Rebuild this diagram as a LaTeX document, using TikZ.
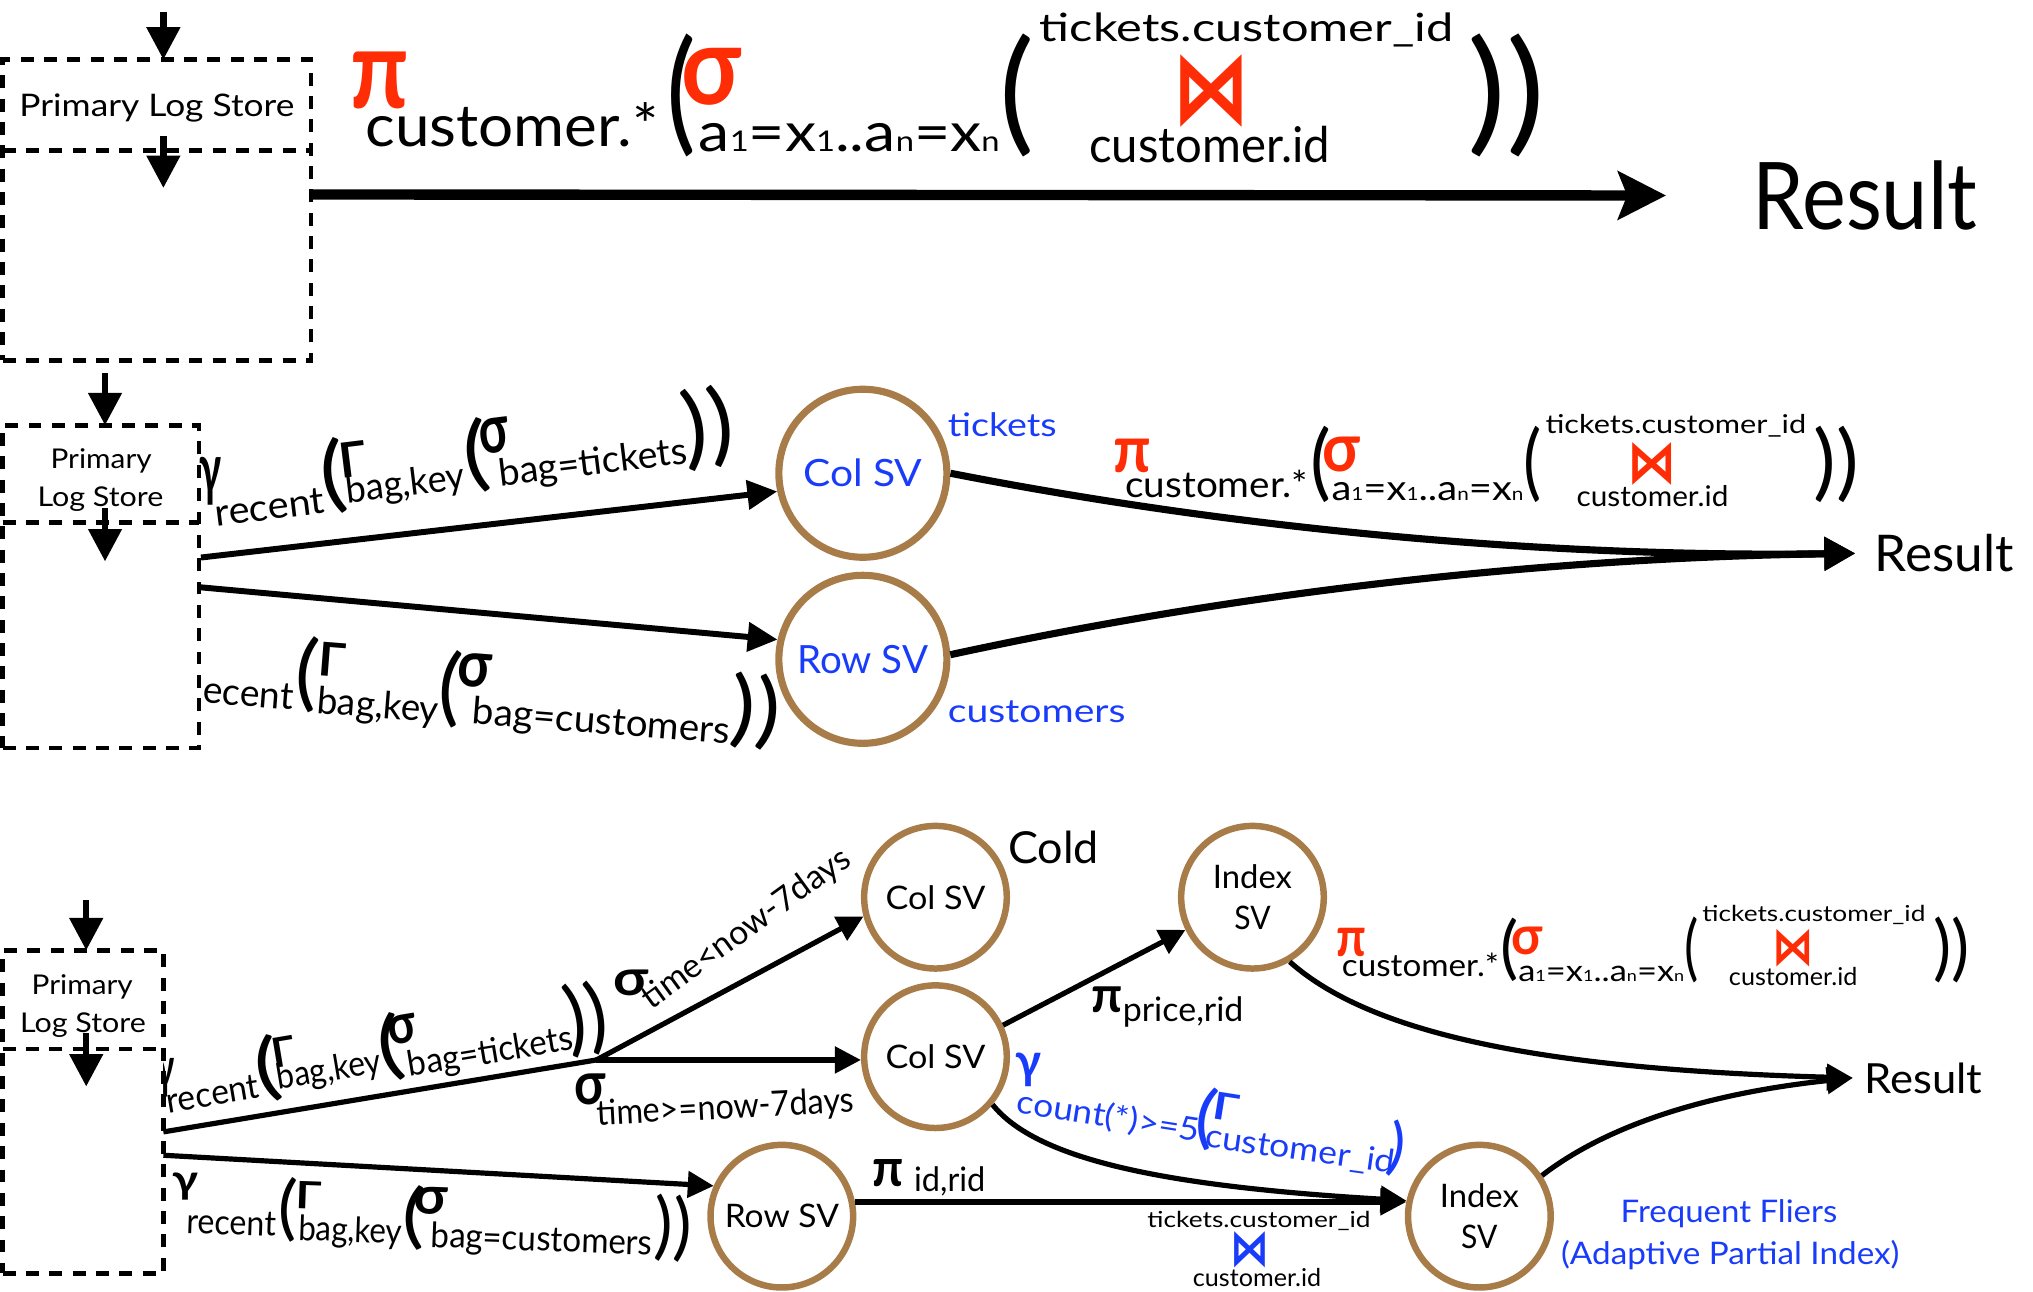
\documentclass[tikz,border=0pt]{standalone}
\usepackage{fontspec}
\setmainfont{Lato}
\newfontfamily\djv{DejaVu Sans}
\usepackage{graphicx}
\usetikzlibrary{arrows.meta,calc}
\definecolor{fred}{RGB}{255,45,5}
\definecolor{fblue}{RGB}{25,60,250}
\definecolor{fbrown}{RGB}{168,124,72}
\newcommand\fsz[1]{\fontsize{#1}{#1}\selectfont}
\newcommand\fitw[2]{\resizebox{#1pt}{\height}{#2}}
\newcommand\fitb[3]{\resizebox*{#1pt}{#2pt}{#3}}
\newcommand\aform[1]{a{\fsz{#1}1}=x{\fsz{#1}1}..a{\fsz{#1}n}=x{\fsz{#1}n}}
\begin{document}
\begin{tikzpicture}[x=1pt,y=-1pt,
 tx/.style={inner sep=0pt,outer sep=0pt,anchor=base west},
 sym/.style={inner sep=0pt,outer sep=0pt,anchor=center},
 lbox/.style={draw,fill=white,line width=3.5pt,dash pattern=on 10pt off 8pt,inner sep=0pt,outer sep=0pt},
 ldiv/.style={line width=3.5pt,dash pattern=on 10pt off 8pt},
 circA/.style={circle,draw=fbrown,line width=5.5pt,inner sep=0pt,minimum size=129.6pt},
 circB/.style={circle,draw=fbrown,line width=5pt,inner sep=0pt,minimum size=110pt},
 dnarr/.style={line width=5pt,-{Triangle[length=25pt,width=25pt]}},
 midarr/.style={line width=4.6pt,-{Triangle[length=23pt,width=22pt]}},
 curvA/.style={line width=5.5pt,-{Triangle[length=24pt,width=25pt]}},
 botarr/.style={line width=4pt,-{Triangle[length=20pt,width=20pt]}},
 botline/.style={line width=4pt},
 sb/.style={text=fblue}, sr/.style={text=fred}]
\useasboundingbox (0,0) rectangle (1568,996);

% ================= TOP =================
\node[tx,font=\fsz{72},inner xsep=67pt] (res1) at (1285,177) {\fitw{173}{Result}};
\node[sym,sr] (tpi) at (292.5,62) {\fitb{45}{44}{\bfseries π}};
\node[tx,font=\fsz{45}] (tcust) at (282,113) {\fitw{226}{customer.*}};
\node[sym] (tp1) at (525.5,73.5) {\fitb{23}{95}{(}};
\node[sym,sr] (tsig) at (549,59) {\fitb{46}{44}{\bfseries σ}};
\node[tx,font=\fsz{42}] (taf) at (539,117) {\fitw{232}{\aform{22}}};
\node[sym] (tp2) at (784.5,73.5) {\fitb{27}{95}{(}};
\node[tx,font=\fsz{30}] (ttc) at (802,32) {\fitw{319}{tickets.customer\_id}};
\node[sym,sr] (tbow) at (934,70) {\fitb{60}{56}{\djv\bfseries ⋈}};
\node[tx,font=\fsz{38}] (tci) at (840,125) {\fitw{186}{customer.id}};
\node[sym] (tp3) at (1162,73.5) {\fitb{60}{95}{))}};

\node[lbox,minimum width=238pt,minimum height=232pt] (lb1) at (121,162) {};
\draw[ldiv] (lb1.west |- 0,116) -- (lb1.east |- 0,116);
\node[tx,font=\fsz{24}] (pls1) at (15,90) {\fitw{212}{Primary Log Store}};
\coordinate (in1) at (126,9);
\draw[dnarr] (in1) -- (in1 |- lb1.north);
\coordinate (in1b) at (126,105);
\coordinate (in1c) at (126,145);
\draw[dnarr] (in1b) -- (in1c);
\draw[line width=8pt,-{Stealth[length=37pt,width=37pt,inset=7pt]}] (lb1.east |- 0,150) -- (res1.west);

% ================= MIDDLE =================
\node[sym] (mg1) at (162.5,371) {\fitb{17}{37}{\bfseries γ}};
\node[tx,font=\fsz{29},rotate=7] (mrec1) at (167,406) {\fitw{85}{recent}};
\node[sym,rotate=7] (mp11) at (257,367.5) {\fitb{20}{59}{(}};
\node[sym,rotate=7] (mG1) at (272.5,354.5) {\fitb{21}{27}{\bfseries Γ}};
\node[tx,font=\fsz{29},rotate=7] (mbk1) at (268,388) {\fitw{92}{bag,key}};
\node[sym,rotate=7] (mp12) at (367,351) {\fitb{20}{58}{(}};
\node[sym,rotate=7] (ms1) at (381.5,336.5) {\fitb{23}{27}{\bfseries σ}};
\node[tx,font=\fsz{29},rotate=7] (mbt1) at (386,375) {\fitw{146}{bag=tickets}};
\node[sym,rotate=7] (mp13) at (546,330) {\fitb{40}{64}{))}};

\node[tx,font=\fsz{29},rotate=-4.5] (mrec2) at (156,542) {\fitw{70}{ecent}};
\node[sym,rotate=-4.5] (mp21) at (237,520.5) {\fitb{18}{59}{(}};
\node[sym,rotate=-4.5] (mG2) at (256.5,509) {\fitb{21}{26}{\bfseries Γ}};
\node[tx,font=\fsz{29},rotate=-4.5] (mbk2) at (244,550) {\fitw{94}{bag,key}};
\node[sym,rotate=-4.5] (mp22) at (347,531) {\fitb{18}{60}{(}};
\node[sym,rotate=-4.5] (ms2) at (366,517) {\fitb{26}{26}{\bfseries σ}};
\node[tx,font=\fsz{29},rotate=-4.5] (mbc2) at (364,558) {\fitw{199}{bag=customers}};
\node[sym,rotate=-4.5] (mp23) at (582.5,548.5) {\fitb{39}{59}{))}};

\node[lbox,minimum width=151.5pt,minimum height=249pt] (lb2) at (77.75,452.5) {};
\draw[ldiv] (lb2.west |- 0,403) -- (lb2.east |- 0,403);
\node[tx,font=\fsz{21}] (pm1) at (39,361) {\fitw{78}{Primary}};
\node[tx,font=\fsz{21}] (pm2) at (29,391) {\fitw{97}{Log Store}};
\coordinate (in2) at (81,288);
\draw[dnarr] (in2) -- (in2 |- lb2.north);
\coordinate (in2b) at (81,392);
\coordinate (in2c) at (81,433);
\draw[dnarr] (in2b) -- (in2c);

\node[circA,text=fblue,font=\fsz{29}] (cols) at (665.5,365) {\fitw{92}{Col SV}};
\node[circA,text=fblue,font=\fsz{30}] (rows) at (665.5,508.5) {\fitw{101}{Row SV}};
\node[tx,sb,font=\fsz{25}] (ltk) at (731,337) {\fitw{84}{tickets}};
\node[tx,sb,font=\fsz{25}] (lcu) at (731,557) {\fitw{137}{customers}};
\node[tx,font=\fsz{39},inner xsep=15pt] (res2) at (1431,441) {\fitw{107}{Result}};

\coordinate (b2o1) at (155,430);
\coordinate (b2o2) at (155,453);
\draw[midarr] (b2o1) -- (cols.192);
\draw[midarr] (b2o2) -- (rows.167);
\draw[curvA] (cols.east) .. controls (963,410) and (1200,430) .. (res2.west);
\draw[curvA] (rows.3) .. controls (963,455) and (1200,430) .. (res2.west);

\node[sym,sr] (mpi) at (873.5,352) {\fitb{29}{26}{\bfseries π}};
\node[tx,font=\fsz{28}] (mcust) at (868,384) {\fitw{141}{customer.*}};
\node[sym] (mq1) at (1019,358.5) {\fitb{16}{59}{(}};
\node[sym,sr] (msig) at (1034.5,350.5) {\fitb{29}{27}{\bfseries σ}};
\node[tx,font=\fsz{27}] (maf) at (1027,386) {\fitw{148}{\aform{14}}};
\node[sym] (mq2) at (1182,358.5) {\fitb{14}{59}{(}};
\node[tx,font=\fsz{20}] (mtc) at (1192,334) {\fitw{201}{tickets.customer\_id}};
\node[sym,sr] (mbow) at (1274,357.5) {\fitb{38}{33}{\djv\bfseries ⋈}};
\node[tx,font=\fsz{22}] (mci) at (1216,391) {\fitw{117}{customer.id}};
\node[sym] (mq3) at (1416.5,358.5) {\fitb{35}{59}{))}};

% ================= BOTTOM =================
\node[sym] (bg1) at (128,831) {\fitb{14}{30}{\bfseries γ}};
\node[tx,font=\fsz{27},rotate=9.5] (brec1) at (130,858.6) {\fitw{72}{recent}};
\node[sym,rotate=9.5] (bp11) at (206,824) {\fitb{20}{52}{(}};
\node[sym,rotate=9.5] (bG1) at (219,811.5) {\fitb{18}{23}{\bfseries Γ}};
\node[tx,font=\fsz{27},rotate=9.5] (bbk1) at (215,840.6) {\fitw{81}{bag,key}};
\node[sym,rotate=9.5] (bp12) at (301,808) {\fitb{20}{53}{(}};
\node[sym,rotate=9.5] (bs1) at (310,794) {\fitb{22}{22}{\bfseries σ}};
\node[tx,font=\fsz{27},rotate=9.5] (bbt1) at (316,830.5) {\fitw{129}{bag=tickets}};
\node[sym,rotate=9.5] (bp13) at (452.5,786) {\fitb{33}{58}{))}};

\node[sym] (bg2) at (143,915.5) {\fitb{20}{21}{\bfseries γ}};
\node[tx,font=\fsz{27},rotate=-2] (brec2) at (144,951) {\fitw{69}{recent}};
\node[sym,rotate=-2] (bp21) at (222.5,933) {\fitb{15}{50}{(}};
\node[sym,rotate=-2] (bG2) at (238,922) {\fitb{20}{21}{\bfseries Γ}};
\node[tx,font=\fsz{27},rotate=-2] (bbk2) at (230,956.4) {\fitw{80}{bag,key}};
\node[sym,rotate=-2] (bp22) at (319,939) {\fitb{18}{50}{(}};
\node[sym,rotate=-2] (bs2) at (332,926.5) {\fitb{26}{21}{\bfseries σ}};
\node[tx,font=\fsz{27},rotate=-2] (bbc2) at (332,962) {\fitw{171}{bag=customers}};
\node[sym,rotate=-2] (bp23) at (519.5,947.5) {\fitb{29}{52}{))}};

\node[lbox,minimum width=124pt,minimum height=249pt] (lb3) at (64,857.5) {};
\draw[ldiv] (lb3.west |- 0,809) -- (lb3.east |- 0,809);
\node[tx,font=\fsz{21}] (pb1) at (24.4,767) {\fitw{78}{Primary}};
\node[tx,font=\fsz{21}] (pb2) at (15.5,796) {\fitw{97}{Log Store}};
\coordinate (in3) at (66.5,694);
\draw[dnarr] (in3) -- (in3 |- lb3.north);
\coordinate (in3b) at (66.5,797);
\coordinate (in3c) at (66.5,838);
\draw[dnarr] (in3b) -- (in3c);

\node[circB,font=\fsz{25}] (cold) at (721.5,692) {\fitw{77}{Col SV}};
\node[circB,font=\fsz{25}] (colm) at (721.5,815) {\fitw{77}{Col SV}};
\node[circB,font=\fontsize{25}{32}\selectfont,align=center] (idxt) at (966,692) {\fitw{61}{Index}\\\fitw{28}{SV}};
\node[circB,font=\fontsize{25}{32}\selectfont,align=center] (idxb) at (1141,938) {\fitw{61}{Index}\\\fitw{28}{SV}};
\node[circB,font=\fsz{25}] (rowb) at (603,938) {\fitw{88}{Row SV}};
\node[tx,font=\fsz{34}] (lcold) at (777.6,666) {\fitw{70}{Cold}};
\node[tx,font=\fsz{32},inner xsep=9pt] (res3) at (1429,843) {\fitw{91}{Result}};

\coordinate (o1) at (lb3.east |- 0,873);
\coordinate (J) at (460,817.5);
\coordinate (o2) at (lb3.east |- 0,891);
\draw[botline] (o1) -- (J);
\draw[botarr] (J) -- (cold.195);
\draw[botarr] (J) -- (J -| colm.west);
\draw[botarr] (o2) -- (rowb.156);
\draw[botarr] (colm.25) -- (idxt.206);
\draw[botarr] (idxt.-60) .. controls (1060,800) and (1200,825) .. (res3.west);
\draw[botarr] (idxb.33) .. controls (1230,875) and (1300,845) .. (res3.west);
\draw[botarr] (colm.-40) .. controls (800,895) and (900,915) .. (idxb.168);
\draw[botarr] (rowb.11) -- (idxb.169);

\node[sym] (bsl) at (487,757.75) {\fitb{27}{20}{\bfseries σ}};
\node[tx,font=\fsz{26},rotate=36] (btl) at (502.5,779) {\fitw{192}{time<now-7days}};
\node[sym] (bsg) at (455,840) {\fitb{24}{24}{\bfseries σ}};
\node[tx,font=\fsz{27},rotate=3] (btg) at (460.6,868) {\fitw{199}{time>=now-7days}};

\node[sym] (bpp) at (853.8,771) {\fitb{24}{20}{\bfseries π}};
\node[tx,font=\fsz{26}] (bpr) at (866,788) {\fitw{93}{price,rid}};
\node[sym] (bpi) at (685,905) {\fitb{24}{21}{\bfseries π}};
\node[tx,font=\fsz{26}] (bir) at (705,919) {\fitw{55}{id,rid}};

\node[sym,sb] (bgb) at (793.6,825) {\fitb{20}{26}{\bfseries γ}};
\node[tx,sb,font=\fsz{25},rotate=-9] (bcnt) at (783.6,858.4) {\fitw{142}{count(*)>=5}};
\node[sym,sb,rotate=-9] (bcp1) at (930.5,862.5) {\fitb{16}{49}{(}};
\node[sym,sb,rotate=-9] (bcG) at (946,853.5) {\fitb{20}{21}{\bfseries Γ}};
\node[tx,sb,font=\fsz{25},rotate=-8] (bcid) at (929,884.6) {\fitw{147}{customer\_id}};
\node[sym,sb,rotate=-9] (bcp2) at (1077.5,886) {\fitb{13}{44}{)}};

\node[sym,sr] (rpi) at (1042.5,727) {\fitb{23}{22}{\bfseries π}};
\node[tx,font=\fsz{24}] (rcust) at (1035,753.5) {\fitw{121}{customer.*}};
\node[sym] (rq1) at (1164,732.5) {\fitb{14}{49}{(}};
\node[sym,sr] (rsig) at (1178,725.75) {\fitb{24}{21.5}{\bfseries σ}};
\node[tx,font=\fsz{23}] (raf) at (1171,757) {\fitw{128}{\aform{12}}};
\node[sym] (rq2) at (1304.5,732.5) {\fitb{11}{51}{(}};
\node[tx,font=\fsz{17}] (rtc) at (1313,711) {\fitw{172}{tickets.customer\_id}};
\node[sym,sr] (rbow) at (1383,731.5) {\fitb{32}{29}{\djv\bfseries ⋈}};
\node[tx,font=\fsz{19}] (rci) at (1333.5,760) {\fitw{99}{customer.id}};
\node[sym] (rq3) at (1505,732.5) {\fitb{28}{51}{))}};

\node[tx,font=\fsz{17}] (jtc) at (885,947) {\fitw{172}{tickets.customer\_id}};
\node[sym,sb] (jbow) at (964,964) {\fitb{30}{28}{\djv\bfseries ⋈}};
\node[tx,font=\fsz{19}] (jci) at (920,992.6) {\fitw{99}{customer.id}};

\node[tx,sb,font=\fsz{24}] (ff1) at (1250,943) {\fitw{167}{Frequent Fliers}};
\node[tx,sb,font=\fsz{24}] (ff2) at (1204,975.6) {\fitw{261}{(Adaptive Partial Index)}};
\end{tikzpicture}
\end{document}
